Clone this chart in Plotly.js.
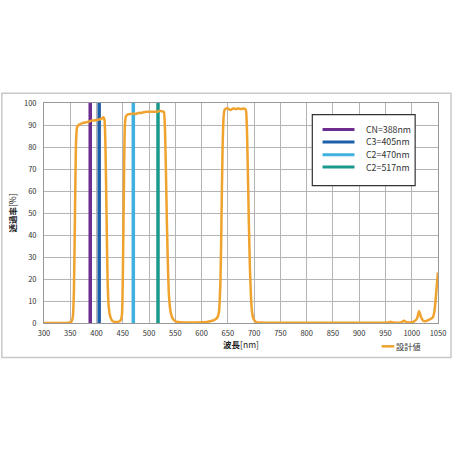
<!DOCTYPE html>
<html><head><meta charset="utf-8">
<script src="https://cdn.plot.ly/plotly-3.0.1.min.js"></script>
<style>html,body{margin:0;padding:0;background:#fff;}#c{width:455px;height:455px;}</style>
</head><body><div id="c"></div>
<script>
// Designed transmittance curve (wavelength nm, transmittance %)
const wavelength = [300,340,350,353,355,357,359,361,363,366,370,375,380,385,390,395,400,405,410,413,415,417,419,421,423,426,430,435,440,445,448,450,452,454,456,458,460,465,470,475,480,485,490,495,500,505,510,515,520,525,528,530,532,534,536,538,541,545,550,560,580,600,610,620,625,630,633,636,638,640,642,644,647,650,655,660,665,670,675,680,684,686,688,690,692,694,696,698,701,705,710,750,800,900,955,960,965,980,985,990,1000,1005,1010,1014,1018,1022,1026,1030,1035,1040,1043,1046,1048,1050];
const transmittance = [0,0,0.3,1,3,15,50,82,89,90,90.5,91,91.2,91.5,92,92,92.3,92.5,93,93.5,92.5,80,50,20,8,3,1,0.5,0.5,1,3,20,60,90,94,94.5,94.8,95,95.2,95,95.5,95.5,95.8,96,96,96,96,96,96.5,96.2,96,90,70,45,25,12,5,2,0.8,0.3,0.2,0.3,0.5,1,1.5,2.5,5,20,50,80,94,97,97.5,97.5,96.8,97.5,97.3,97.5,97.3,97.5,97,90,70,45,25,12,5,2.5,1,0.3,0.2,0.1,0.1,0.1,0.2,0.6,0.2,0.3,1,0.4,0.3,0.8,2,5.3,2.5,1,0.8,1.2,1.8,2.5,5,12,18,23];
const curveName = '設計値';
// Center wavelength markers
const markerNames = ['CN=388nm','C3=405nm','C2=470nm','C2=517nm'];
const markerWavelengths = [388,405,470,517];
const markerColors = ['#6b2d8e','#1f5fa8','#40b0e0','#1a9a8c'];
const xTicks = [300,350,400,450,500,550,600,650,700,750,800,850,900,950,1000,1050];
const yTicks = [0,10,20,30,40,50,60,70,80,90,100];

const curveColor = '#f0a22e';
const traces = [];
markerWavelengths.forEach((w,i)=>{
  traces.push({x:[w,w], y:[0,100], type:'scatter', mode:'lines', name:markerNames[i],
    line:{color:markerColors[i], width:3.5}, showlegend:false, hoverinfo:'skip'});
});
traces.push({x:wavelength, y:transmittance, type:'scatter', mode:'lines', name:curveName,
  line:{color:curveColor, width:2.5, shape:'spline', smoothing:0.6}, showlegend:false});

// Legend drawn in paper coordinates
const shapes = [
  {type:'rect', xref:'paper', yref:'paper', x0:-0.107, x1:1.033, y0:-0.157, y1:1.044,
    line:{color:'#c8c8c8', width:1.5}, fillcolor:'rgba(0,0,0,0)', layer:'below'},
  {type:'rect', xref:'paper', yref:'paper', x0:0.681, x1:0.942, y0:0.624, y1:0.947,
    line:{color:'#333', width:1.2}, fillcolor:'#fff', layer:'above'}
];
const annotations = [];
const rowY = [0.879, 0.823, 0.765, 0.709];
markerNames.forEach((n,i)=>{
  shapes.push({type:'line', xref:'paper', yref:'paper', x0:0.707, x1:0.788, y0:rowY[i], y1:rowY[i],
    line:{color:markerColors[i], width:3}, layer:'above'});
  annotations.push({xref:'paper', yref:'paper', x:0.811, y:rowY[i], xanchor:'left', yanchor:'middle',
    text:n, showarrow:false, font:{size:8.8, color:'#333'}});
});
shapes.push({type:'line', xref:'paper', yref:'paper', x0:0.857, x1:0.889, y0:-0.106, y1:-0.106,
  line:{color:curveColor, width:2.5}});
annotations.push({xref:'paper', yref:'paper', x:0.889, y:-0.106, xanchor:'left', yanchor:'middle',
  text:curveName, showarrow:false, font:{size:8.2, color:'#333'}});

const fontMain = 'Noto Sans CJK JP, Noto Sans, sans-serif';
const layout = {
  width:455, height:455,
  margin:{l:44, r:16.5, t:102.7, b:131.7},
  paper_bgcolor:'#fff', plot_bgcolor:'#fff',
  font:{family:fontMain, size:8, color:'#333'},
  showlegend:false,
  xaxis:{range:[300,1050], tickvals:xTicks, ticktext:xTicks.map(String), showgrid:true,
    gridcolor:'#b4b4b4', gridwidth:1, zeroline:false, showline:true, linecolor:'#999', mirror:true,
    ticks:'', ticklabelstandoff:3, tickfont:{size:7.5, color:'#333'},
    title:{text:'<b>波長</b>[nm]', font:{size:8.5, color:'#222'}, standoff:5}},
  yaxis:{range:[0,100], tickvals:yTicks, showgrid:true, gridcolor:'#b4b4b4', gridwidth:1,
    zeroline:false, showline:true, linecolor:'#999', mirror:true, ticks:'', ticklabelstandoff:5,
    tickfont:{size:7.5, color:'#333'},
    title:{text:'<b>透過率</b>[%]', font:{size:8.5, color:'#222'}, standoff:6}},
  shapes:shapes, annotations:annotations
};
Plotly.newPlot('c', traces, layout, {displayModeBar:false, staticPlot:true});
</script></body></html>
